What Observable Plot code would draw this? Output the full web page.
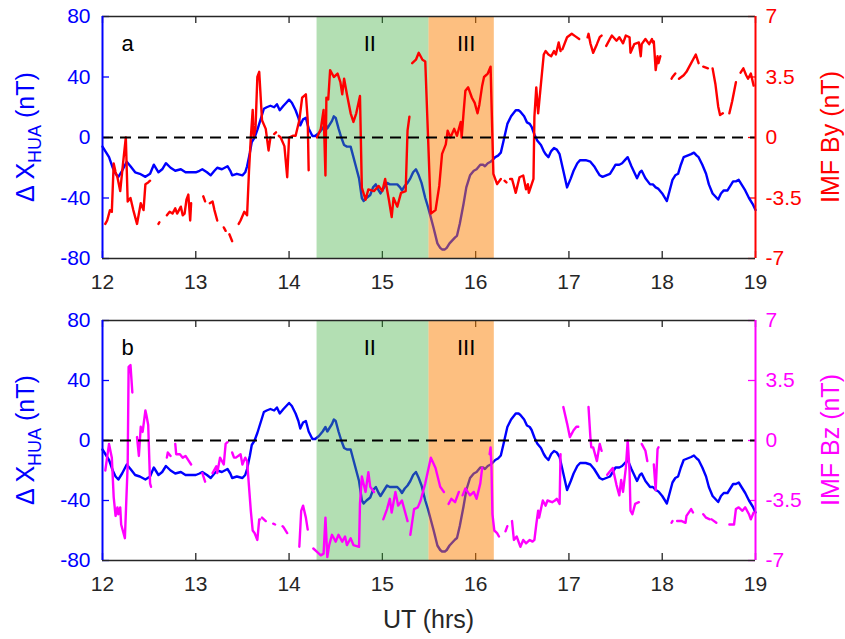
<!DOCTYPE html>
<html>
<head>
<meta charset="utf-8">
<script src="https://cdn.jsdelivr.net/npm/d3@7"></script>
<script src="https://cdn.jsdelivr.net/npm/@observablehq/plot@0.6"></script>
<style>
  body { margin: 0; background: white; }
  #chart svg { display: block; }
</style>
</head>
<body>
<div id="chart"></div>
<script>
// ---- axes / ticks ----
const xDomain = [12, 19];
const yDomain = [-80, 80];
const xTicks = [12, 13, 14, 15, 16, 17, 18, 19];
const dxTicks = [-80, -40, 0, 40, 80];
const imfTicks = [-7, -3.5, 0, 3.5, 7];

// ---- shaded phases ----
const phaseStart = [14.3, 15.5];
const phaseEnd = [15.5, 16.2];
const phaseNames = ["II", "III"];
const phaseLabelX = [14.8, 15.8];
const phaseColors = ["rgba(65,175,65,0.4)", "rgba(251,127,1,0.5)"];

// ---- Delta X HUA (nT) ----
const dxHours = [12.00,12.04,12.07,12.11,12.14,12.17,12.21,12.26,12.30,12.35,12.40,12.46,12.51,12.55,12.60,12.64,12.68,12.73,12.78,12.84,12.89,12.95,13.00,13.04,13.07,13.12,13.16,13.20,13.23,13.28,13.34,13.37,13.39,13.44,13.50,13.53,13.55,13.58,13.60,13.63,13.66,13.70,13.73,13.76,13.80,13.84,13.87,13.90,13.94,13.97,14.00,14.03,14.07,14.10,14.12,14.15,14.18,14.21,14.25,14.28,14.32,14.36,14.39,14.41,14.43,14.46,14.48,14.50,14.53,14.56,14.59,14.62,14.66,14.69,14.72,14.75,14.78,14.80,14.83,14.87,14.90,14.93,14.96,14.98,15.02,15.05,15.08,15.12,15.16,15.19,15.21,15.24,15.27,15.30,15.33,15.36,15.39,15.42,15.46,15.49,15.52,15.55,15.59,15.62,15.64,15.67,15.69,15.72,15.75,15.78,15.80,15.83,15.87,15.90,15.94,15.98,16.01,16.05,16.08,16.10,16.13,16.16,16.18,16.21,16.24,16.27,16.30,16.34,16.38,16.43,16.46,16.48,16.52,16.55,16.58,16.60,16.63,16.66,16.70,16.73,16.75,16.78,16.81,16.84,16.87,16.90,16.94,16.98,17.02,17.05,17.09,17.12,17.14,17.18,17.23,17.27,17.30,17.33,17.36,17.40,17.44,17.47,17.50,17.54,17.57,17.60,17.63,17.67,17.70,17.73,17.76,17.78,17.82,17.87,17.90,17.93,17.96,18.00,18.05,18.08,18.11,18.14,18.17,18.20,18.23,18.27,18.31,18.34,18.37,18.39,18.43,18.47,18.50,18.54,18.57,18.60,18.63,18.66,18.70,18.73,18.76,18.79,18.82,18.86,18.89,18.93,18.97,19.00];
const dxValues = [-6,-10,-13,-20,-24,-26,-22,-16,-19,-23,-24,-26,-24,-18,-23,-21,-17,-20,-22,-21,-23,-23,-23,-22,-21,-23,-25,-22,-20,-21,-19,-22,-25,-24,-25,-23,-19,-10,-3,0,5,13,19,20,21,20,22,18,21,23,25,23,18,13,8,12,13,6,1,1,3,6,9,6,8,11,14,13,6,0,-5,-6,-6,-13,-20,-27,-40,-42,-40,-38,-33,-31,-35,-37,-33,-30,-31,-31,-31,-33,-35,-32,-30,-27,-23,-21,-25,-30,-40,-46,-53,-60,-70,-73,-74,-74,-73,-70,-68,-66,-65,-57,-44,-33,-25,-22,-21,-18,-18,-19,-17,-16,-15,-13,-12,-10,-2,9,14,18,18,17,14,10,9,7,2,-2,-5,-9,-11,-13,-9,-7,-8,-11,-22,-33,-27,-22,-17,-15,-15,-15,-16,-19,-22,-25,-26,-25,-24,-21,-18,-18,-17,-15,-13,-19,-23,-27,-23,-22,-27,-31,-31,-33,-34,-37,-42,-35,-28,-25,-24,-18,-13,-12,-11,-10,-12,-13,-18,-24,-31,-37,-39,-41,-37,-35,-35,-32,-29,-29,-28,-32,-35,-40,-44,-48];

// ---- IMF By (nT), null = data gap ----
const byHours = [12.03,12.05,12.08,12.10,12.12,12.14,12.16,12.19,12.22,12.25,12.27,12.30,12.33,12.37,12.41,12.44,12.46,12.49,12.51,12.55,12.60,12.61,12.63,12.69,12.72,12.75,12.78,12.80,12.84,12.86,12.88,12.90,12.92,12.94,12.95,12.99,13.08,13.10,13.12,13.15,13.18,13.20,13.23,13.26,13.30,13.32,13.34,13.36,13.39,13.42,13.46,13.48,13.52,13.55,13.57,13.59,13.61,13.62,13.64,13.66,13.68,13.71,13.75,13.78,13.80,13.82,13.84,13.86,13.87,13.89,13.91,13.95,13.98,14.00,14.04,14.07,14.11,14.14,14.18,14.20,14.21,14.25,14.30,14.34,14.37,14.39,14.40,14.42,14.44,14.48,14.52,14.55,14.57,14.59,14.62,14.66,14.69,14.72,14.76,14.78,14.82,14.85,14.91,14.96,15.00,15.03,15.07,15.10,15.12,15.16,15.20,15.25,15.27,15.29,15.30,15.32,15.36,15.39,15.43,15.46,15.52,15.57,15.61,15.64,15.68,15.70,15.73,15.77,15.80,15.84,15.85,15.87,15.89,15.92,15.96,15.99,16.02,16.04,16.07,16.09,16.13,16.16,16.19,16.23,16.27,16.29,16.31,16.33,16.35,16.37,16.39,16.43,16.47,16.51,16.54,16.56,16.57,16.62,16.63,16.65,16.67,16.70,16.73,16.75,16.78,16.81,16.84,16.86,16.89,16.91,16.92,16.93,16.98,17.03,17.07,17.11,17.15,17.20,17.21,17.23,17.26,17.30,17.33,17.35,17.37,17.40,17.41,17.46,17.51,17.54,17.58,17.61,17.65,17.66,17.70,17.75,17.77,17.78,17.82,17.86,17.89,17.90,17.905,17.91,17.93,17.95,17.96,17.98,18.04,18.10,18.11,18.14,18.16,18.18,18.23,18.26,18.29,18.36,18.39,18.41,18.44,18.49,18.51,18.54,18.57,18.60,18.62,18.65,18.68,18.72,18.75,18.79,18.81,18.84,18.87,18.90,18.92,18.95,18.98];
const byValues = [-5.0,-4.8,-4.2,-4.3,-1.5,-2.0,-2.3,-3.1,-1.5,0.0,-3.7,-3.5,-4.2,-5.0,-3.8,-4.2,-2.7,-2.6,-2.5,null,-5.0,-4.9,null,-4.5,-4.3,-4.4,-4.1,-4.4,-4.0,-4.5,-4.4,-3.6,-3.3,-4.8,-3.8,null,-3.4,-3.7,null,-3.8,-3.7,-4.2,-4.8,null,-5.2,-5.4,null,-5.6,-6.0,null,-5.0,-4.8,-4.3,-4.5,-2.0,0.0,1.6,0.0,0.5,3.5,3.8,1.0,0.5,-0.75,0.0,null,0.2,0.3,null,0.1,0.0,-0.5,-2.3,0.0,0.1,0.1,1.0,2.3,2.5,1.0,-1.9,null,0.0,0.5,1.6,-2.2,2.3,2.2,3.9,3.5,3.7,3.2,2.5,3.4,2.5,1.4,0.9,1.4,2.4,-2.9,-3.6,-3.0,-3.1,-2.8,-3.1,-2.4,-3.6,-4.6,-3.5,-4.0,-3.2,-3.1,0.4,1.2,null,4.3,4.5,4.9,4.5,4.4,-4.4,-4.2,-2.8,-0.95,-0.4,0.4,0.0,0.5,0.1,0.9,0.0,1.4,2.7,2.9,2.3,2.0,1.4,1.9,3.0,3.5,3.7,4.1,-2.1,-2.7,-2.4,null,-2.5,-2.6,null,-2.4,-2.4,-3.2,-2.3,-2.2,-3.0,-2.7,-3.2,-2.4,1.2,2.9,1.4,3.1,4.8,5.0,4.8,4.7,5.0,4.8,5.5,5.0,null,5.1,5.8,6.0,5.85,5.7,null,5.8,6.0,5.45,4.9,5.4,5.8,5.9,null,5.3,5.4,5.9,5.6,5.8,5.45,5.9,5.8,4.9,5.4,5.5,4.7,5.4,5.7,5.4,5.7,5.5,null,5.55,3.9,4.7,4.3,4.7,null,3.4,3.5,3.7,null,3.4,3.6,3.8,4.1,4.8,4.3,null,4.1,4.0,null,4.0,3.1,1.8,1.3,1.4,null,1.4,2.1,3.2,null,3.75,4.0,3.6,3.4,3.7,3.0];

// ---- IMF Bz (nT), null = data gap ----
const bzHours = [12.03,12.07,12.10,12.12,12.14,12.16,12.17,12.19,12.20,12.24,12.27,12.28,12.30,12.32,12.34,12.37,12.39,12.41,12.43,12.46,12.47,12.49,12.51,12.52,12.60,12.69,12.70,12.73,12.75,12.78,12.79,12.83,12.86,12.89,12.95,13.00,13.07,13.10,13.14,13.18,13.22,13.23,13.26,13.30,13.32,13.34,13.36,13.39,13.41,13.43,13.48,13.50,13.53,13.55,13.59,13.61,13.63,13.66,13.68,13.69,13.70,13.71,13.75,13.79,13.83,13.85,13.90,13.93,13.94,13.98,14.05,14.11,14.13,14.15,14.18,14.20,14.23,14.26,14.30,14.34,14.37,14.39,14.41,14.43,14.46,14.50,14.53,14.57,14.60,14.62,14.66,14.69,14.75,14.76,14.78,14.82,14.85,14.87,14.91,14.96,15.01,15.05,15.08,15.10,15.14,15.17,15.21,15.27,15.28,15.30,15.34,15.38,15.41,15.46,15.52,15.57,15.62,15.66,15.68,15.71,15.74,15.78,15.82,15.84,15.86,15.89,15.94,15.98,16.01,16.05,16.07,16.11,16.15,16.16,16.17,16.18,16.20,16.23,16.25,16.28,16.32,16.34,16.36,16.39,16.41,16.44,16.48,16.51,16.54,16.58,16.61,16.63,16.65,16.67,16.68,16.72,16.75,16.77,16.82,16.85,16.87,16.90,16.91,16.92,16.94,16.98,17.01,17.05,17.08,17.10,17.15,17.21,17.23,17.24,17.26,17.30,17.33,17.35,17.38,17.41,17.44,17.47,17.51,17.54,17.56,17.58,17.61,17.63,17.65,17.66,17.68,17.71,17.75,17.76,17.78,17.82,17.84,17.87,17.91,17.93,17.95,17.96,18.03,18.10,18.11,18.13,18.16,18.21,18.25,18.26,18.31,18.33,18.38,18.44,18.47,18.51,18.52,18.53,18.58,18.65,18.72,18.77,18.79,18.82,18.86,18.89,18.93,18.95,18.98];
const bzValues = [-1.75,-0.2,-1.0,-3.3,-4.4,-3.9,-4.3,-3.9,-4.9,-5.7,-1.4,4.3,4.4,2.8,null,0.2,-0.9,0.8,0.5,1.75,1.5,0.9,-2.5,-2.7,null,-1.0,-0.7,-0.9,null,-0.2,-0.8,-0.8,-1.0,-0.9,-1.4,null,-1.9,-2.4,null,-1.9,-1.5,-1.9,-1.0,-1.4,-0.2,-0.1,null,-0.7,-1.0,-1.0,-0.8,-1.4,-1.0,-1.2,-4.1,-5.25,-5.4,-5.8,-4.6,-4.6,null,-4.5,-4.7,null,-4.85,-4.9,null,-5.0,-5.05,-5.4,null,-6.2,-4.1,-3.8,-4.5,-5.2,null,-6.3,-6.5,-6.7,-6.6,-4.5,-6.8,-6.1,-5.5,-5.9,-5.5,-5.9,-5.6,-6.1,-5.7,-6.1,-6.2,-3.7,-2.1,-3.0,-1.85,-2.7,-3.0,null,-4.6,-4.0,-3.4,-4.2,-3.0,-3.8,-3.5,-4.7,null,-5.5,-4.0,-3.9,-3.5,-2.5,-1.0,-1.6,-2.7,-3.0,null,-3.7,-3.4,-3.6,-3.0,null,-3.2,-2.8,-3.2,-3.0,-3.4,-2.5,-1.6,null,-0.8,-0.4,-1.6,-4.3,-5.25,-5.4,-5.6,null,-5.3,-5.0,null,-4.7,-5.8,-5.6,-6.2,-5.8,-6.0,-5.8,-5.9,-5.8,-4.9,-4.1,-4.5,-3.5,-3.8,-3.5,-3.6,-3.5,-3.4,-3.7,-0.8,null,1.95,1.0,0.2,0.6,0.8,0.8,null,1.95,0.2,-0.4,-0.4,-1.2,-0.2,-0.6,null,-2.0,-1.8,-1.6,-2.6,-3.2,-2.3,-3.0,-1.6,0.0,-1.8,-4.1,-4.3,-3.7,-3.6,null,-0.2,-0.6,-1.2,null,-1.4,-2.9,-0.5,-0.4,null,-4.8,-4.7,null,-4.7,-4.7,-4.8,-4.4,-4.0,-4.2,null,-4.3,-4.5,-4.6,null,-4.6,-4.8,null,-4.9,-4.9,-4.0,-3.9,-4.1,-3.9,-4.3,-4.6,-4.2];

// ---- styling ----
const FONT = '"Liberation Sans", Arial, Helvetica, sans-serif';
const AXIS_GREY = "#262626";
const BLUE = "#0000ff";
const W = 845, ML = 102, MR = 90;
const plotW = W - ML - MR;
const k = yDomain[1] / imfTicks[imfTicks.length - 1]; // IMF nT -> left-axis units

function makePanel(opt) {
  const plotH = opt.height - opt.marginTop - opt.marginBottom;
  const dxIdx = d3.range(dxHours.length);
  const imfIdx = d3.range(opt.hours.length);
  const phIdx = d3.range(phaseStart.length);
  const svg = Plot.plot({
    width: W,
    height: opt.height,
    marginLeft: ML,
    marginRight: MR,
    marginTop: opt.marginTop,
    marginBottom: opt.marginBottom,
    x: {domain: xDomain},
    y: {domain: yDomain},
    color: {type: "identity"},
    style: {fontFamily: FONT, fontSize: "21px", background: "white", overflow: "visible"},
    marks: [
      // inward tick marks
      Plot.ruleX(xTicks, {x: d => d, stroke: AXIS_GREY, strokeWidth: 1.3, insetTop: plotH - 7}),
      Plot.ruleX(xTicks, {x: d => d, stroke: AXIS_GREY, strokeWidth: 1.3, insetBottom: plotH - 7}),
      Plot.ruleY(dxTicks, {y: d => d, stroke: BLUE, strokeWidth: 1.3, insetRight: plotW - 7}),
      Plot.ruleY(dxTicks, {y: d => d, stroke: opt.color, strokeWidth: 1.3, insetLeft: plotW - 7}),
      // tick labels
      Plot.axisX(xTicks, {anchor: "bottom", tickSize: 0, tickPadding: 16, fontSize: 21, fill: AXIS_GREY, tickFormat: d => String(d), label: null}),
      Plot.axisY(dxTicks, {anchor: "left", tickSize: 0, tickPadding: 12, fontSize: 21, fill: BLUE, tickFormat: d => String(d), label: null}),
      Plot.axisY(dxTicks, {anchor: "right", tickSize: 0, tickPadding: 10, fontSize: 21, fill: opt.color,
        tickFormat: d => String(+(d / k).toFixed(2)), label: null}),
      // Delta X line
      Plot.line(dxIdx, {x: i => dxHours[i], y: i => dxValues[i], stroke: BLUE, strokeWidth: 2.4}),
      // shaded phases
      Plot.rect(phIdx, {x1: i => phaseStart[i], x2: i => phaseEnd[i], fill: i => phaseColors[i]}),
      // IMF line
      Plot.line(imfIdx, {x: i => opt.hours[i], y: i => opt.values[i] == null ? NaN : opt.values[i] * k,
        stroke: opt.color, strokeWidth: 2.4}),
      // zero line
      Plot.ruleY([0], {stroke: "black", strokeWidth: 2, strokeDasharray: "11,7"}),
      // frame
      Plot.ruleY(yDomain, {stroke: AXIS_GREY, strokeWidth: 1.5}),
      Plot.ruleX([xDomain[0]], {stroke: BLUE, strokeWidth: 2}),
      Plot.ruleX([xDomain[1]], {stroke: opt.color, strokeWidth: 2}),
      // labels
      Plot.text([opt.letter], {frameAnchor: "top-left", dx: 19, dy: 27, fontSize: 22, fill: "black", textAnchor: "start", lineAnchor: "middle"}),
      Plot.text(phIdx, {x: i => phaseLabelX[i], frameAnchor: "top", dy: 27, text: i => phaseNames[i], fontSize: 22, fill: "black", textAnchor: "start", lineAnchor: "middle"})
    ]
  });
  const s = d3.select(svg);
  const cy = opt.marginTop + plotH / 2;
  const lt = s.append("text")
    .attr("transform", `translate(34,${cy}) rotate(-90)`)
    .attr("text-anchor", "middle")
    .attr("fill", BLUE)
    .style("font-family", FONT)
    .style("font-size", "25px");
  lt.append("tspan").text("Δ X");
  lt.append("tspan").attr("dy", 7).style("font-size", "18px").text("HUA");
  lt.append("tspan").attr("dy", -7).text(" (nT)");
  s.append("text")
    .attr("transform", `translate(839,${cy}) rotate(-90)`)
    .attr("text-anchor", "middle")
    .attr("fill", opt.color)
    .style("font-family", FONT)
    .style("font-size", "25px")
    .text(opt.title);
  if (opt.xTitle) {
    s.append("text")
      .attr("x", ML + plotW / 2)
      .attr("y", opt.height - opt.marginBottom + 68)
      .attr("text-anchor", "middle")
      .attr("fill", AXIS_GREY)
      .style("font-family", FONT)
      .style("font-size", "25px")
      .text(opt.xTitle);
  }
  return svg;
}

const chart = document.getElementById("chart");
chart.appendChild(makePanel({height: 300, marginTop: 16, marginBottom: 42, hours: byHours, values: byValues,
  color: "#ff0000", title: "IMF By (nT)", letter: "a"}));
chart.appendChild(makePanel({height: 339, marginTop: 20, marginBottom: 79, hours: bzHours, values: bzValues,
  color: "#ff00ff", title: "IMF Bz (nT)", letter: "b", xTitle: "UT (hrs)"}));
</script>
</body>
</html>
